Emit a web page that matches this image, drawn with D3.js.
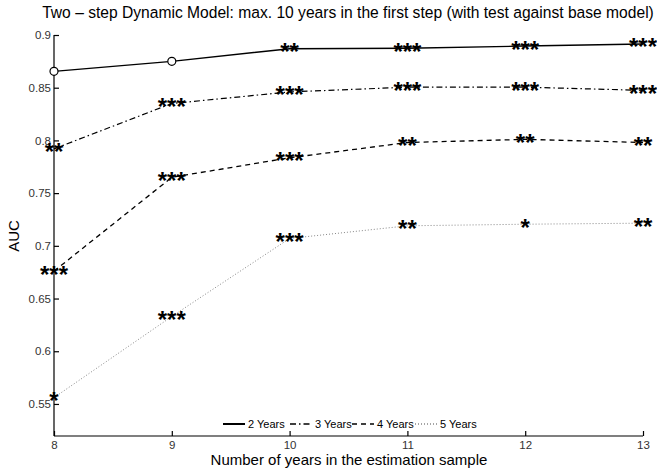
<!DOCTYPE html>
<html><head><meta charset="utf-8">
<script src="https://cdn.jsdelivr.net/npm/d3@7/dist/d3.min.js"></script>
<style>body{margin:0;background:#fff;} text{font-family:"Liberation Sans",Arial,sans-serif;}</style>
</head><body><svg id="c" width="657" height="470"></svg>
<script>
const years = [8, 9, 10, 11, 12, 13];
const seriesNames = ["2 Years", "3 Years", "4 Years", "5 Years"];
const auc2 = [0.8655, 0.875, 0.887, 0.8875, 0.8895, 0.8915];
const auc3 = [0.792, 0.835, 0.846, 0.8505, 0.8505, 0.8475];
const auc4 = [0.676, 0.765, 0.7835, 0.798, 0.801, 0.798];
const auc5 = [0.556, 0.633, 0.707, 0.719, 0.7205, 0.7215];
const sig2 = ["o", "o", "**", "***", "***", "***"];
const sig3 = ["**", "***", "***", "***", "***", "***"];
const sig4 = ["***", "***", "***", "**", "**", "**"];
const sig5 = ["*", "***", "***", "**", "*", "**"];
const yTicks = [0.55, 0.6, 0.65, 0.7, 0.75, 0.8, 0.85, 0.9];
const xTicks = [8, 9, 10, 11, 12, 13];

const svg = d3.select("#c");
const x = d3.scaleLinear().domain([8, 13]).range([54, 643]);
const y = d3.scaleLinear().domain([0.5196, 0.9]).range([436, 35]);

const styles = [
  {dash: null, color: "#000", w: 1.4},
  {dash: "6,3,1.5,3", color: "#000", w: 1.2},
  {dash: "5,4", color: "#000", w: 1.3},
  {dash: "1,2", color: "#888", w: 1}
];
const allVals = [auc2, auc3, auc4, auc5];
const allSig = [sig2, sig3, sig4, sig5];

// axes
const yAxis = d3.axisLeft(y).tickValues(yTicks).tickSize(-5).tickPadding(3).tickFormat(d3.format(""));
const gy = svg.append("g").attr("transform", "translate(54,0)").call(yAxis);
const xAxis = d3.axisBottom(x).tickValues(xTicks).tickSize(-5).tickPadding(5).tickFormat(d3.format("d"));
const gx = svg.append("g").attr("transform", "translate(0,436)").call(xAxis);
[gx, gy].forEach(g => {
  g.select(".domain").attr("stroke", "#000").attr("stroke-width", 1.2);
  g.selectAll(".tick line").attr("stroke", "#000").attr("stroke-width", 1.2);
  g.selectAll(".tick text").attr("fill", "#333").style("font-size", "11.5px").style("font-family", "Liberation Sans, Arial, sans-serif");
});
gy.select(".domain").attr("d", `M0,${y(0.9)}V436`);
gx.select(".domain").attr("d", `M54,0H643`);

const line = d3.line().x((d, i) => x(years[i])).y(d => y(d));
allVals.forEach((vals, s) => {
  const p = svg.append("path").datum(vals).attr("d", line)
    .attr("fill", "none").attr("stroke", styles[s].color).attr("stroke-width", styles[s].w);
  if (styles[s].dash) p.attr("stroke-dasharray", styles[s].dash);
});

// markers
allVals.forEach((vals, s) => {
  vals.forEach((v, i) => {
    const sg = allSig[s][i];
    if (sg === "o") {
      svg.append("circle").attr("cx", x(years[i])).attr("cy", y(v)).attr("r", 4)
        .attr("fill", "#fff").attr("stroke", "#000").attr("stroke-width", 1.2);
    } else {
      svg.append("text").attr("x", x(years[i])).attr("y", y(v) + 11.5)
        .attr("text-anchor", "middle").style("font-size", "24px").style("font-weight", "bold")
        .attr("fill", "#000").text(sg);
    }
  });
});

// title and labels
const title = svg.append("text").attr("x", 348).attr("y", 18).attr("text-anchor", "middle")
  .style("font-size", "14px").attr("fill", "#000")
  .text("Two \u2013 step Dynamic Model: max. 10 years in the first step (with test against base model)");
const tw = title.node().getComputedTextLength();
title.style("font-size", (14 * 612 / tw).toFixed(2) + "px");
svg.append("text").attr("x", 349).attr("y", 465).attr("text-anchor", "middle")
  .style("font-size", "15px").attr("fill", "#000").text("Number of years in the estimation sample");
svg.append("text").attr("transform", "translate(19,236) rotate(-90)").attr("text-anchor", "middle")
  .style("font-size", "15px").attr("fill", "#000").text("AUC");

// legend
const legX = [223, 290, 352, 415];
const leg = svg.append("g");
seriesNames.forEach((name, s) => {
  const g = leg.append("g").attr("transform", `translate(${legX[s]},424)`);
  const l = g.append("line").attr("x1", 0).attr("x2", 22).attr("y1", 0).attr("y2", 0)
    .attr("stroke", styles[s].color).attr("stroke-width", s === 0 ? 2 : 1.5);
  if (styles[s].dash) l.attr("stroke-dasharray", styles[s].dash);
  g.append("text").attr("x", 25).attr("y", 4).style("font-size", "11px").attr("fill", "#000").text(name);
});
</script></body></html>
